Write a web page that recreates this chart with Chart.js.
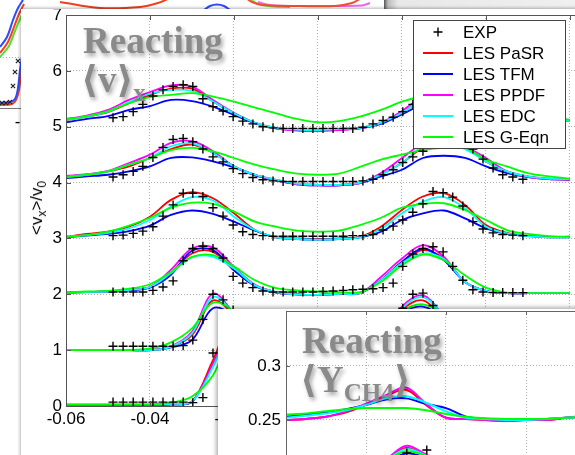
<!DOCTYPE html>
<html>
<head>
<meta charset="utf-8">
<script src="https://cdn.jsdelivr.net/npm/chart.js@4.4.0/dist/chart.umd.min.js"></script>
<style>
html, body { margin: 0; padding: 0; width: 575px; height: 455px; overflow: hidden; background: #fff; }
.abs { position: absolute; }
#topBar { left: 384px; top: 0; width: 200px; height: 9px; background: linear-gradient(to right, #555 0px, #bbb 4px, #e8e8e8 14px, #f0f0f0 100%); z-index: 1; }
#mainPanel { left: 21px; top: 9px; width: 600px; height: 460px; background: #fff; box-shadow: -1px -1px 3px rgba(0,0,0,0.3); z-index: 2; }
#ovPanel { left: 218px; top: 309px; width: 400px; height: 200px; background: #fff; box-shadow: -2px -2px 4px rgba(0,0,0,0.3); z-index: 5; }
.wm { position: absolute; font-family: 'Liberation Serif', 'DejaVu Serif', 'DejaVu Sans', serif; font-weight: bold;
      color: #8a8a8a; font-size: 37px; line-height: 37px; white-space: nowrap; text-shadow: 2px 3px 4px rgba(0,0,0,0.35); }
.wsub { font-size: 25px; position: relative; top: 9px; }
#ylab { position: absolute; left: 37px; top: 208px; transform: translate(-50%, -50%) rotate(-90deg);
        font-family: 'Liberation Sans', Arial, sans-serif; font-size: 17px; white-space: nowrap; z-index: 4; }
#ylab .s { font-size: 12px; position: relative; top: 4px; }
</style>
</head>
<body>
<canvas id="bg" class="abs" width="575" height="135" style="left:0;top:0;z-index:0"></canvas>
<div id="topBar" class="abs"></div>
<div id="mainPanel" class="abs"></div>
<canvas id="mainChart" class="abs" width="580" height="446" style="left:21px;top:9px;z-index:3"></canvas>
<div class="wm" style="left:83px;top:22px;z-index:4">Reacting</div>
<div class="wm" style="left:81px;top:61px;z-index:4">⟨v⟩<span class="wsub">x</span></div>
<div id="ylab">&lt;v<span class="s">x</span>&gt;/v<span class="s">0</span></div>
<div id="ovPanel" class="abs"></div>
<canvas id="ovChart" class="abs" width="370" height="160" style="left:218px;top:309px;z-index:6"></canvas>
<div class="wm" style="left:302px;top:322px;z-index:7">Reacting</div>
<div class="wm" style="left:300px;top:361px;z-index:7">⟨Y<span class="wsub">CH4</span>⟩</div>

<script>
// ---- main chart: <v_x>/v_0 profiles, six stations offset by 5,4,3,2,1,0 ----
const xGrid = [-0.06, -0.055, -0.05, -0.045, -0.04, -0.035, -0.03, -0.025, -0.02, -0.015, -0.01, -0.005, 0,
  0.005, 0.01, 0.015, 0.02, 0.025, 0.03, 0.035, 0.04, 0.045, 0.05, 0.055, 0.06];
const xTicks = [-0.06, -0.04, -0.02, 0, 0.02, 0.04, 0.06];
const xTickLabels = ['-0.06', '-0.04', '-0.02', '0', '0.02', '0.04', '0.06'];
const yTicks = [0, 1, 2, 3, 4, 5, 6, 7];

const lesPaSR = [
  [5.12, 5.18, 5.26, 5.42, 5.57, 5.68, 5.68, 5.45, 5.24, 5.07, 4.98, 4.95, 4.94, 4.96, 4.98, 5.07, 5.25, 5.5, 5.66, 5.65, 5.5, 5.35, 5.22, 5.14, 5.1],
  [4.1, 4.14, 4.2, 4.29, 4.44, 4.6, 4.68, 4.53, 4.29, 4.14, 4.05, 3.98, 3.96, 3.96, 4.0, 4.14, 4.35, 4.62, 4.68, 4.62, 4.38, 4.2, 4.11, 4.07, 4.06],
  [3.03, 3.08, 3.12, 3.21, 3.39, 3.69, 3.83, 3.72, 3.45, 3.15, 3.02, 3.0, 2.99, 3.0, 3.03, 3.21, 3.51, 3.75, 3.81, 3.6, 3.24, 3.1, 3.05, 3.03, 3.03],
  [2.03, 2.04, 2.05, 2.08, 2.13, 2.38, 2.73, 2.76, 2.43, 2.16, 2.04, 2.0, 1.99, 2.01, 2.02, 2.25, 2.58, 2.79, 2.64, 2.22, 2.06, 2.02, 2.02, 2.02, 2.02],
  [1.0, 1.0, 1.0, 1.0, 1.0, 1.06, 1.27, 1.89, 1.62, 1.15, 1.02, 1.0, 1.0, 1.0, 1.02, 1.15, 1.72, 1.89, 1.55, 1.12, 1.02, 1.0, 1.0, 1.0, 1.0],
  [0.02, 0.02, 0.02, 0.02, 0.02, 0.03, 0.08, 0.82, 1.6, 0.6, 0.08, 0.02, 0.02, 0.02, 0.03, 0.2, 1.0, 1.6, 0.8, 0.12, 0.03, 0.02, 0.02, 0.02, 0.02]
];
const lesTFM = [
  [5.08, 5.14, 5.19, 5.3, 5.37, 5.48, 5.46, 5.36, 5.21, 5.06, 4.97, 4.94, 4.93, 4.95, 4.97, 5.05, 5.22, 5.4, 5.48, 5.47, 5.38, 5.28, 5.18, 5.12, 5.1],
  [4.08, 4.11, 4.14, 4.2, 4.29, 4.44, 4.45, 4.38, 4.27, 4.13, 4.04, 3.97, 3.95, 3.95, 3.99, 4.11, 4.23, 4.44, 4.48, 4.44, 4.29, 4.17, 4.1, 4.06, 4.05],
  [3.02, 3.05, 3.08, 3.13, 3.23, 3.42, 3.5, 3.44, 3.3, 3.14, 3.02, 2.99, 2.98, 2.99, 3.02, 3.12, 3.33, 3.45, 3.5, 3.36, 3.18, 3.08, 3.04, 3.02, 3.02],
  [2.03, 2.04, 2.05, 2.07, 2.12, 2.35, 2.78, 2.79, 2.43, 2.15, 2.03, 2.0, 1.99, 2.01, 2.02, 2.25, 2.58, 2.82, 2.61, 2.22, 2.06, 2.02, 2.02, 2.02, 2.02],
  [1.0, 1.0, 1.0, 1.0, 1.0, 1.05, 1.18, 1.75, 1.6, 1.15, 1.02, 1.0, 1.0, 1.0, 1.02, 1.12, 1.65, 1.78, 1.55, 1.12, 1.02, 1.0, 1.0, 1.0, 1.0],
  [0.02, 0.02, 0.02, 0.02, 0.02, 0.03, 0.07, 0.74, 1.4, 0.6, 0.08, 0.02, 0.02, 0.02, 0.03, 0.18, 0.9, 1.45, 0.75, 0.12, 0.03, 0.02, 0.02, 0.02, 0.02]
];
const lesPPDF = [
  [5.14, 5.2, 5.3, 5.48, 5.62, 5.74, 5.72, 5.48, 5.25, 5.07, 4.97, 4.93, 4.92, 4.94, 4.97, 5.07, 5.28, 5.55, 5.72, 5.7, 5.55, 5.38, 5.25, 5.16, 5.12],
  [4.12, 4.15, 4.21, 4.35, 4.5, 4.71, 4.74, 4.56, 4.29, 4.14, 4.04, 3.97, 3.95, 3.95, 3.99, 4.17, 4.44, 4.7, 4.78, 4.65, 4.44, 4.2, 4.1, 4.06, 4.05],
  [],
  [2.03, 2.04, 2.05, 2.08, 2.13, 2.44, 2.82, 2.84, 2.49, 2.17, 2.04, 2.0, 1.99, 2.01, 2.02, 2.31, 2.64, 2.88, 2.67, 2.22, 2.06, 2.02, 2.02, 2.02, 2.02],
  [1.0, 1.0, 1.0, 1.0, 1.0, 1.07, 1.33, 2.01, 1.65, 1.15, 1.02, 1.0, 1.0, 1.0, 1.02, 1.18, 1.78, 1.98, 1.6, 1.12, 1.02, 1.0, 1.0, 1.0, 1.0],
  [0.02, 0.02, 0.02, 0.02, 0.02, 0.03, 0.08, 0.76, 1.55, 0.6, 0.08, 0.02, 0.02, 0.02, 0.03, 0.2, 0.95, 1.58, 0.8, 0.12, 0.03, 0.02, 0.02, 0.02, 0.02]
];
const lesEDC = [
  [5.12, 5.18, 5.27, 5.44, 5.59, 5.66, 5.64, 5.45, 5.24, 5.07, 4.98, 4.95, 4.94, 4.96, 4.98, 5.07, 5.25, 5.5, 5.64, 5.62, 5.5, 5.35, 5.22, 5.14, 5.1],
  [4.1, 4.14, 4.2, 4.32, 4.44, 4.65, 4.7, 4.53, 4.29, 4.14, 4.05, 3.98, 3.96, 3.96, 4.0, 4.14, 4.35, 4.65, 4.7, 4.6, 4.38, 4.2, 4.11, 4.07, 4.06],
  [3.03, 3.06, 3.1, 3.18, 3.33, 3.57, 3.74, 3.68, 3.39, 3.15, 3.02, 2.99, 2.98, 2.99, 3.02, 3.17, 3.45, 3.66, 3.74, 3.54, 3.21, 3.09, 3.04, 3.02, 3.02],
  [2.03, 2.04, 2.05, 2.08, 2.13, 2.38, 2.66, 2.67, 2.46, 2.16, 2.04, 2.0, 1.99, 2.01, 2.02, 2.25, 2.56, 2.73, 2.63, 2.22, 2.06, 2.02, 2.02, 2.02, 2.02],
  [1.0, 1.0, 1.0, 1.0, 1.0, 1.06, 1.3, 1.95, 1.65, 1.15, 1.02, 1.0, 1.0, 1.0, 1.02, 1.16, 1.74, 1.95, 1.6, 1.12, 1.02, 1.0, 1.0, 1.0, 1.0],
  [0.03, 0.03, 0.03, 0.03, 0.03, 0.04, 0.08, 0.7, 1.5, 0.62, 0.09, 0.03, 0.02, 0.02, 0.03, 0.2, 0.95, 1.52, 0.8, 0.13, 0.04, 0.03, 0.03, 0.03, 0.03]
];
const lesGEqn = [
  [5.13, 5.19, 5.28, 5.42, 5.53, 5.57, 5.6, 5.54, 5.45, 5.34, 5.24, 5.14, 5.08, 5.1, 5.18, 5.3, 5.45, 5.55, 5.6, 5.6, 5.52, 5.4, 5.28, 5.18, 5.12],
  [4.1, 4.14, 4.2, 4.32, 4.44, 4.58, 4.62, 4.56, 4.44, 4.32, 4.23, 4.16, 4.14, 4.16, 4.28, 4.41, 4.5, 4.58, 4.62, 4.62, 4.41, 4.29, 4.17, 4.11, 4.07],
  [3.03, 3.06, 3.12, 3.23, 3.37, 3.55, 3.64, 3.62, 3.48, 3.3, 3.21, 3.14, 3.12, 3.14, 3.24, 3.37, 3.55, 3.62, 3.63, 3.51, 3.33, 3.15, 3.08, 3.04, 3.03],
  [2.03, 2.05, 2.06, 2.1, 2.18, 2.4, 2.67, 2.7, 2.5, 2.25, 2.11, 2.07, 2.05, 2.04, 2.04, 2.22, 2.52, 2.71, 2.61, 2.34, 2.12, 2.03, 2.02, 2.02, 2.02],
  [1.0, 1.0, 1.0, 1.0, 1.03, 1.14, 1.39, 1.85, 1.68, 1.2, 1.05, 1.02, 1.01, 1.02, 1.05, 1.2, 1.68, 1.82, 1.62, 1.18, 1.05, 1.02, 1.01, 1.0, 1.0],
  [0.03, 0.03, 0.03, 0.03, 0.03, 0.06, 0.17, 0.55, 1.3, 0.7, 0.15, 0.05, 0.03, 0.03, 0.05, 0.25, 0.9, 1.3, 0.8, 0.18, 0.06, 0.03, 0.03, 0.03, 0.03]
];

const expX = [-0.0488, -0.0464, -0.044, -0.0417, -0.0393, -0.0369, -0.0345, -0.0321, -0.0298, -0.0274, -0.025,
  -0.0226, -0.0202, -0.0179, -0.0155, -0.0131, -0.0107, -0.0083, -0.006, -0.0036, -0.0012,
  0.0012, 0.0036, 0.006, 0.0083, 0.0107, 0.0131, 0.0155, 0.0179, 0.0202, 0.0226, 0.025,
  0.0274, 0.0298, 0.0321, 0.0345, 0.0369, 0.0393, 0.0417, 0.044, 0.0464, 0.0488];
const expVals = [
  [5.16, 5.18, 5.27, 5.4, 5.55, 5.66, 5.72, 5.75, 5.72, 5.5, 5.36, 5.28, 5.18, 5.1, 5.05, 5.0, 4.98, 4.97, 4.97, 4.97, 4.97,
   4.97, 4.97, 4.97, 4.97, 4.99, 5.05, 5.11, 5.17, 5.27, 5.4, 5.55, 5.66, 5.72, 5.75, 5.72, 5.55, 5.38, 5.28, 5.18, 5.1, 5.05],
  [4.1, 4.14, 4.2, 4.29, 4.45, 4.63, 4.77, 4.79, 4.73, 4.6, 4.46, 4.37, 4.25, 4.16, 4.09, 4.05, 4.03, 4.02, 4.02, 4.02, 4.02,
   4.02, 4.02, 4.02, 4.02, 4.03, 4.06, 4.14, 4.23, 4.36, 4.46, 4.56, 4.68, 4.76, 4.78, 4.72, 4.6, 4.42, 4.26, 4.14, 4.1, 4.06],
  [3.05, 3.06, 3.09, 3.13, 3.21, 3.4, 3.6, 3.81, 3.81, 3.75, 3.55, 3.4, 3.24, 3.12, 3.07, 3.05, 3.04, 3.04, 3.04, 3.04, 3.04,
   3.04, 3.04, 3.04, 3.05, 3.05, 3.07, 3.15, 3.22, 3.33, 3.47, 3.62, 3.84, 3.82, 3.74, 3.58, 3.3, 3.17, 3.1, 3.07, 3.06, 3.05],
  [2.04, 2.04, 2.04, 2.04, 2.07, 2.13, 2.24, 2.6, 2.82, 2.86, 2.82, 2.65, 2.32, 2.2, 2.12, 2.06, 2.04, 2.04, 2.04, 2.04, 2.04,
   2.05, 2.06, 2.07, 2.08, 2.09, 2.1, 2.12, 2.2, 2.5, 2.72, 2.82, 2.85, 2.76, 2.5, 2.25, 2.08, 2.04, 2.03, 2.03, 2.03, 2.03],
  [1.07, 1.07, 1.07, 1.07, 1.07, 1.07, 1.07, 1.08, 1.18, 1.55, 2.0, 1.9, 1.72, 1.45, 1.2, 1.1, 1.05, 1.05, 1.05, 1.05, 1.05,
   1.05, 1.05, 1.05, 1.05, 1.05, 1.08, 1.15, 1.4, 1.75, 2.0, 2.02, 1.8, 1.6, 1.3, 1.12, 1.05, 1.05, 1.05, 1.05, 1.05, 1.05],
  [0.07, 0.07, 0.07, 0.07, 0.07, 0.07, 0.07, 0.07, 0.06, 0.15, 0.95, 1.5, 1.6, 1.0, 0.3, 0.1, 0.07, 0.07, 0.07, 0.07, 0.07,
   0.07, 0.07, 0.07, 0.07, 0.07, 0.08, 0.1, 0.3, 1.0, 1.55, 1.6, 1.0, 0.2, 0.08, 0.07, 0.07, 0.07, 0.07, 0.07, 0.07, 0.07]
];

// ---- inset chart: <Y_CH4> ----
const ovX = [-0.06, -0.055, -0.05, -0.045, -0.04, -0.035, -0.03, -0.025, -0.02, -0.015, -0.01, -0.005, 0, 0.005, 0.01, 0.015];
const ovXTicks = [-0.06, -0.04, -0.02, 0];
const ovYTicks = [0.25, 0.3];
const ovYLabels = ['0.25', '0.3'];
const ovPaSR = [
  [0.250, 0.251, 0.253, 0.257, 0.264, 0.272, 0.278, 0.264, 0.252, 0.251, 0.250, 0.249, 0.250, 0.250, 0.252, 0.254],
  [0.205, 0.205, 0.205, 0.206, 0.208, 0.213, 0.224, 0.217, 0.209, 0.206, 0.205, 0.205, 0.205, 0.205, 0.205, 0.205]
];
const ovTFM = [
  [0.253, 0.255, 0.257, 0.260, 0.264, 0.269, 0.270, 0.265, 0.261, 0.253, 0.251, 0.250, 0.250, 0.251, 0.252, 0.253],
  [0.205, 0.205, 0.205, 0.206, 0.207, 0.211, 0.219, 0.215, 0.208, 0.206, 0.205, 0.205, 0.205, 0.205, 0.205, 0.205]
];
const ovPPDF = [
  [0.250, 0.251, 0.253, 0.258, 0.265, 0.273, 0.280, 0.265, 0.252, 0.251, 0.250, 0.249, 0.250, 0.250, 0.252, 0.254],
  [0.205, 0.205, 0.205, 0.206, 0.208, 0.214, 0.226, 0.218, 0.209, 0.206, 0.205, 0.205, 0.205, 0.205, 0.205, 0.205]
];
const ovEDC = [
  [0.252, 0.254, 0.256, 0.259, 0.264, 0.270, 0.272, 0.266, 0.258, 0.252, 0.251, 0.250, 0.250, 0.251, 0.252, 0.253],
  [0.205, 0.205, 0.205, 0.206, 0.208, 0.213, 0.223, 0.217, 0.209, 0.206, 0.205, 0.205, 0.205, 0.205, 0.205, 0.205]
];
const ovGEqn = [
  [0.255, 0.256, 0.258, 0.260, 0.261, 0.261, 0.261, 0.259, 0.2555, 0.253, 0.2515, 0.251, 0.251, 0.251, 0.252, 0.253],
  [0.206, 0.206, 0.206, 0.207, 0.209, 0.213, 0.221, 0.217, 0.210, 0.207, 0.206, 0.206, 0.206, 0.206, 0.206, 0.206]
];
const ovExpX = [-0.0298, -0.0248];
const ovExp = [0.2195, 0.2222];

// ---- figure behind the panels (only its edges show) ----
const bgBlueUp = [[0, 47], [7, 37], [13, 20], [18, 8], [23, 0]];
const bgRedUp = [[0, 53], [8, 42], [14, 27], [19, 14], [24, 4]];
const bgGreenUp = [[0, 57], [9, 46], [15, 31], [20, 19], [25, 9]];
const bgBlueLow = [[0, 103], [10, 102], [15, 99], [18, 88], [20, 70], [23, 50]];
const bgRedLow = [[0, 105], [12, 104], [16, 100], [19, 90], [21, 75], [24, 55]];
const bgMarks = [[2, 103], [6, 103], [10, 102], [13, 86], [15, 72], [18, 61]];
const bgTopRed = [[60, 2], [100, 8], [140, 7], [158, 3], [170, -2]];
const bgTopBlue = [[204, 10], [210, 6], [217, 4.5], [224, 6], [230, 10]];
const bgArcRed = [[246, -2], [252, 2], [262, 5], [300, 6], [335, 6], [352, 3], [360, -1]];
const bgArcGreen = [[249, -2], [256, 3], [268, 6], [290, 7]];
const bgArcMag = [[258, 2], [270, 5], [300, 6], [362, 5.5], [370, 3]];

const C = { red: '#ff0000', blue: '#0000ff', mag: '#ff00ff', cyan: '#00ffff', green: '#00ff00' };
Chart.defaults.font.family = "'Liberation Sans', Arial, sans-serif";
Chart.defaults.font.size = 17;
Chart.defaults.color = '#000';

function joinProfiles(xs, profiles) {
  const pts = [];
  profiles.forEach(prof => {
    prof.forEach((v, i) => pts.push({ x: xs[i], y: v }));
    pts.push({ x: xs[xs.length - 1], y: null });
  });
  return pts;
}
function toPts(arr) { return arr.map(p => ({ x: p[0], y: p[1] })); }

function lineSet(label, color, data, order, width) {
  return { label: label, data: data, borderColor: color, backgroundColor: color, borderWidth: width,
    pointRadius: 0, tension: 0.35, spanGaps: false, order: order };
}

// tick labels at the ends must not push the plot area inwards
function noEndPadding(s) { s.paddingTop = 0; s.paddingBottom = 0; }

// frame box + short inward ticks like the original axes
const framePlugin = {
  id: 'frame',
  afterDraw(chart, args, opts) {
    const { ctx, chartArea: a } = chart;
    ctx.save();
    ctx.strokeStyle = opts.color;
    ctx.lineWidth = 1;
    ctx.strokeRect(Math.round(a.left) + 0.5, Math.round(a.top) + 0.5, Math.round(a.right - a.left), Math.round(a.bottom - a.top));
    if (opts.tick) {
      ctx.beginPath();
      chart.scales.x.ticks.forEach(t => {
        const px = Math.round(chart.scales.x.getPixelForValue(t.value)) + 0.5;
        ctx.moveTo(px, a.bottom); ctx.lineTo(px, a.bottom - opts.tick);
        ctx.moveTo(px, a.top); ctx.lineTo(px, a.top + opts.tick);
      });
      chart.scales.y.ticks.forEach(t => {
        const py = Math.round(chart.scales.y.getPixelForValue(t.value)) + 0.5;
        ctx.moveTo(a.left, py); ctx.lineTo(a.left + opts.tick, py);
        ctx.moveTo(a.right, py); ctx.lineTo(a.right - opts.tick, py);
      });
      ctx.stroke();
    }
    ctx.restore();
  }
};

// boxed legend inside the plot, upper right
const boxLegend = {
  id: 'boxLegend',
  afterDraw(chart, args, o) {
    const ctx = chart.ctx;
    ctx.save();
    ctx.fillStyle = '#fff';
    ctx.fillRect(o.left, o.top, o.width, o.height);
    ctx.strokeStyle = '#444';
    ctx.lineWidth = 1;
    ctx.strokeRect(o.left + 0.5, o.top + 0.5, o.width, o.height);
    ctx.font = "17px 'Liberation Sans', Arial, sans-serif";
    ctx.textBaseline = 'middle';
    chart.data.datasets.forEach((ds, i) => {
      const cy = o.top + 12 + i * o.row;
      const x1 = o.left + 10, x2 = o.left + 40;
      ctx.strokeStyle = ds.borderColor;
      ctx.beginPath();
      if (ds.showLine === false) {
        const cx = (x1 + x2) / 2;
        ctx.lineWidth = 1.4;
        ctx.moveTo(cx - 4.5, cy); ctx.lineTo(cx + 4.5, cy);
        ctx.moveTo(cx, cy - 4.5); ctx.lineTo(cx, cy + 4.5);
      } else {
        ctx.lineWidth = 2;
        ctx.moveTo(x1, cy); ctx.lineTo(x2, cy);
      }
      ctx.stroke();
      ctx.fillStyle = '#000';
      ctx.fillText(ds.label, o.left + 50, cy + 1);
    });
    ctx.restore();
  }
};

const expPts = joinProfiles(expX, expVals);

new Chart(document.getElementById('mainChart'), {
  type: 'line',
  data: {
    datasets: [
      { label: 'EXP', data: expPts, showLine: false, pointStyle: 'cross', pointRadius: 4.5, borderWidth: 1.4,
        borderColor: '#000', backgroundColor: '#000', order: 0 },
      lineSet('LES PaSR', C.red, joinProfiles(xGrid, lesPaSR), 5, 1.8),
      lineSet('LES TFM', C.blue, joinProfiles(xGrid, lesTFM), 4, 1.8),
      lineSet('LES PPDF', C.mag, joinProfiles(xGrid, lesPPDF), 3, 1.8),
      lineSet('LES EDC', C.cyan, joinProfiles(xGrid, lesEDC), 2, 1.8),
      lineSet('LES G-Eqn', C.green, joinProfiles(xGrid, lesGEqn), 1, 1.8)
    ]
  },
  options: {
    responsive: false,
    animation: false,
    layout: { autoPadding: false, padding: { top: 6, right: 0, left: 0, bottom: 0 } },
    plugins: {
      legend: { display: false },
      tooltip: { enabled: false },
      frame: { color: '#555', tick: 5 },
      boxLegend: { left: 392, top: 11, width: 152, height: 128, row: 21 }
    },
    scales: {
      x: {
        type: 'linear', min: -0.06, max: 0.0674,
        afterBuildTicks: s => { s.ticks = xTicks.map(v => ({ value: v })); },
        afterFit: s => { s.height = 49; },
        ticks: { padding: 3, maxRotation: 0, callback: (v, i) => xTickLabels[i] },
        grid: { color: '#b0b0b0', lineWidth: 1, drawTicks: false },
        border: { color: '#555', dash: [1, 2] }
      },
      y: {
        type: 'linear', min: 0, max: 7,
        afterBuildTicks: s => { s.ticks = yTicks.map(v => ({ value: v })); },
        afterFit: s => { s.width = 45; noEndPadding(s); },
        ticks: { padding: 4 },
        grid: { color: '#b0b0b0', lineWidth: 1, drawTicks: false },
        border: { color: '#555', dash: [1, 2] }
      }
    }
  },
  plugins: [framePlugin, boxLegend]
});

new Chart(document.getElementById('ovChart'), {
  type: 'line',
  data: {
    datasets: [
      { label: 'EXP', data: ovExpX.map((x, i) => ({ x: x, y: ovExp[i] })), showLine: false, pointStyle: 'cross',
        pointRadius: 4.5, borderWidth: 1.4, borderColor: '#000', order: 0 },
      lineSet('LES PaSR', C.red, joinProfiles(ovX, ovPaSR), 5, 2),
      lineSet('LES TFM', C.blue, joinProfiles(ovX, ovTFM), 4, 2),
      lineSet('LES PPDF', C.mag, joinProfiles(ovX, ovPPDF), 3, 2),
      lineSet('LES EDC', C.cyan, joinProfiles(ovX, ovEDC), 2, 2),
      lineSet('LES G-Eqn', C.green, joinProfiles(ovX, ovGEqn), 1, 2)
    ]
  },
  options: {
    responsive: false,
    animation: false,
    layout: { autoPadding: false, padding: { top: 2, right: 0, left: 0, bottom: 0 } },
    plugins: { legend: { display: false }, tooltip: { enabled: false }, frame: { color: '#666', tick: 4 } },
    scales: {
      x: {
        type: 'linear', min: -0.06, max: 0.0155,
        afterBuildTicks: s => { s.ticks = ovXTicks.map(v => ({ value: v })); },
        afterFit: s => { s.height = 0; s.paddingLeft = 0; s.paddingRight = 0; },
        ticks: { display: false },
        grid: { color: '#b0b0b0', drawTicks: false },
        border: { display: false, dash: [1, 2] }
      },
      y: {
        type: 'linear', min: 0.2046, max: 0.3509,
        afterBuildTicks: s => { s.ticks = ovYTicks.map(v => ({ value: v })); },
        afterFit: s => { s.width = 68; noEndPadding(s); },
        ticks: { padding: 5, callback: (v, i) => ovYLabels[i] },
        grid: { color: '#b0b0b0', drawTicks: false },
        border: { color: '#666', dash: [1, 2] }
      }
    }
  },
  plugins: [framePlugin]
});

// background figure, mostly hidden by the panels
new Chart(document.getElementById('bg'), {
  type: 'line',
  data: {
    datasets: [
      lineSet('b1', '#2b4cff', toPts(bgBlueUp), 3, 2),
      lineSet('r1', '#f04020', toPts(bgRedUp), 3, 2),
      lineSet('g1', '#55dd33', toPts(bgGreenUp), 3, 2),
      lineSet('b2', '#2b4cff', toPts(bgBlueLow), 3, 2),
      lineSet('r2', '#f04020', toPts(bgRedLow), 3, 2),
      lineSet('r3', '#f04020', toPts(bgTopRed), 3, 2),
      lineSet('b3', '#2b4cff', toPts(bgTopBlue), 3, 2),
      lineSet('r4', '#f05030', toPts(bgArcRed), 3, 2),
      lineSet('g4', '#66dd44', toPts(bgArcGreen), 3, 2),
      lineSet('m4', '#ee66ee', toPts(bgArcMag), 3, 2),
      { label: 'x', data: toPts(bgMarks), showLine: false, pointStyle: 'crossRot', pointRadius: 3, borderWidth: 1.2,
        borderColor: '#222', order: 0 }
    ]
  },
  options: {
    responsive: false,
    animation: false,
    layout: { autoPadding: false, padding: 0 },
    plugins: { legend: { display: false }, tooltip: { enabled: false } },
    scales: {
      x: {
        type: 'linear', min: 0, max: 575,
        afterBuildTicks: s => { s.ticks = [{ value: 34 }]; },
        afterFit: s => { s.height = 27; },
        ticks: { padding: 4, callback: () => '-0.06' },
        grid: { display: false, drawTicks: false },
        border: { color: '#777' }
      },
      y: {
        type: 'linear', min: 0, max: 108, reverse: true,
        afterBuildTicks: s => { s.ticks = [{ value: 57 }]; },
        afterFit: s => { s.width = 0; noEndPadding(s); },
        ticks: { display: false },
        grid: { color: '#aaa', drawTicks: false },
        border: { display: false, dash: [1, 2] }
      }
    }
  }
});
</script>
</body>
</html>
